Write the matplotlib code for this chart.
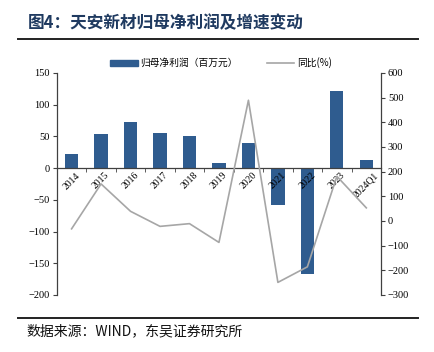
import numpy as np
import matplotlib.pyplot as plt
from matplotlib.lines import Line2D

plt.rcParams['font.family'] = ['Liberation Serif', 'Noto Sans CJK SC']

years = ['2014', '2015', '2016', '2017', '2018', '2019', '2020', '2021', '2022', '2023', '2024Q1']
profit = [22, 54, 73, 56, 50.5, 8, 40, -59, -167, 121, 13]
yoy = [-32, 150, 39, -22, -11, -87, 489, -249, -186, 181, 53]

bar_color = '#2F5C8F'
line_color = '#A6A6A6'
axis_color = '#404040'

fig = plt.figure(figsize=(4.34, 3.52), dpi=100)
ax = fig.add_axes([0.131, 0.162, 0.747, 0.631])
x = np.arange(len(years))
ax.bar(x, profit, width=0.45, color=bar_color, zorder=2)
ax.set_axisbelow(False)
ax.set_xlim(-0.5, len(years) - 0.5)
ax.set_ylim(-200, 150)
ax.set_yticks(np.arange(-200, 151, 50))

ax.spines['top'].set_visible(False)
ax.spines['right'].set_visible(False)
ax.spines['bottom'].set_position(('data', 0))
for s in ['left', 'bottom']:
    ax.spines[s].set_color(axis_color)
    ax.spines[s].set_linewidth(0.9)
ax.set_xticks(x)
ax.set_xticklabels(years, rotation=45, ha='center', va='top', fontsize=7)
ax.tick_params(axis='x', length=0, pad=2)
ax.set_xticks(np.arange(-0.5, len(years), 1), minor=True)
ax.tick_params(axis='x', which='minor', length=3, direction='out', color=axis_color)
ax.tick_params(axis='y', labelsize=7.5, length=3, color=axis_color, pad=2)

ax2 = ax.twinx()
ax2.plot(x, yoy, color=line_color, linewidth=1.2, zorder=3)
ax2.set_ylim(-300, 600)
ax2.set_yticks(np.arange(-300, 601, 100))
for s in ['top', 'left', 'bottom']:
    ax2.spines[s].set_visible(False)
ax2.spines['right'].set_color(axis_color)
ax2.spines['right'].set_linewidth(0.9)
ax2.tick_params(axis='y', labelsize=7.5, length=3, color=axis_color, pad=2)

handles = [plt.Rectangle((0, 0), 1, 1, color=bar_color),
           Line2D([0], [0], color=line_color, linewidth=1.2)]
fig.legend(handles, ['归母净利润（百万元）', '同比(%)'], loc='center',
           bbox_to_anchor=(0.51, 0.822), ncol=2, frameon=False,
           prop={'family': ['Noto Sans CJK SC'], 'size': 7},
           handlelength=2.8, handleheight=0.6, columnspacing=3.0, handletextpad=0.3)

fig.text(0.064, 0.935, '图4：天安新材归母净利润及增速变动', fontsize=12, fontweight='bold',
         color='#1F3A60', family=['Noto Sans CJK SC'], va='center', ha='left')
fig.add_artist(Line2D([0.042, 0.963], [0.889, 0.889], color='#222222', linewidth=1.4))
fig.add_artist(Line2D([0.042, 0.963], [0.098, 0.098], color='#222222', linewidth=1.4))
fig.text(0.062, 0.058, '数据来源：WIND，东吴证券研究所', fontsize=10,
         color='#111111', family=['Noto Sans CJK SC'], va='center', ha='left')

fig.savefig('out.png', dpi=100)
